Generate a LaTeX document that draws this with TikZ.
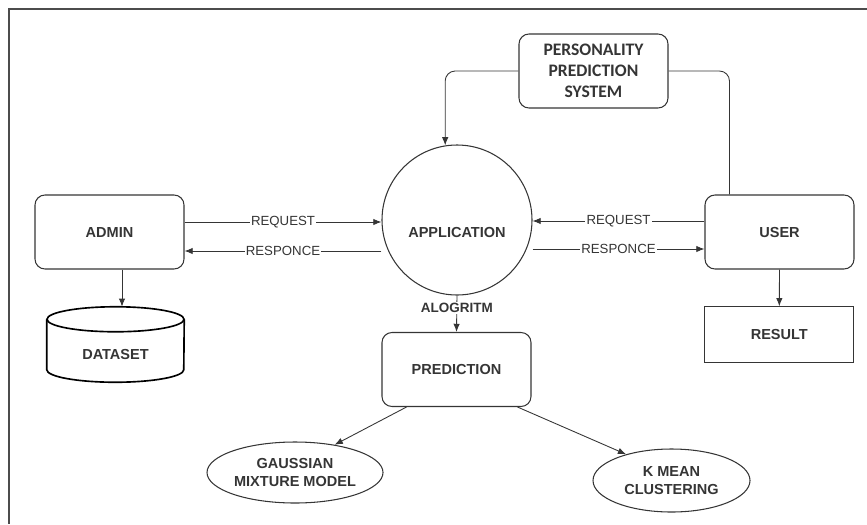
\documentclass[tikz,border=0pt]{standalone}
\usepackage{fontspec}
\setmainfont{Liberation Sans}
\newfontfamily\calibfont{Carlito}
\usetikzlibrary{positioning,calc,shapes.geometric,arrows.meta}
\definecolor{ink}{HTML}{353535}

\begin{document}
\begin{tikzpicture}[x=0.03cm,y=-0.03cm,
        box/.style={draw=ink,line width=0.9pt,rounded corners=0.3cm,minimum width=4.47cm,minimum height=2.22cm,align=center,text=ink,font=\fontsize{12.4}{17}\selectfont\bfseries},
        sharpbox/.style={box,sharp corners,line width=0.7pt,minimum height=1.68cm},
        circ/.style={circle,draw=ink,line width=0.9pt,minimum size=4.5cm,text=ink,font=\fontsize{12.4}{17}\selectfont\bfseries},
        ellip/.style={ellipse,draw=ink,line width=0.9pt,align=center,inner sep=0pt,text=ink,font=\fontsize{12.4}{16}\selectfont\bfseries},
        lbl/.style={fill=white,inner sep=1pt,text=ink,font=\fontsize{11.3}{13}\selectfont},
        arr/.style={draw=ink,line width=0.75pt,-{Latex[length=7pt,width=5.5pt]}},
        plain/.style={draw=ink,line width=0.75pt}]
    \useasboundingbox (0,0) rectangle (867,524);
    % frame of the screenshot
    \draw[line width=1.6pt,draw=black!70] (867,9) -- (9,9) -- (9,524);

    % nodes
    \node[box,font=\calibfont\fontsize{15}{18}\selectfont\bfseries] (pps) at (593.5,71) {PERSONALITY\\PREDICTION\\SYSTEM};
    \node[circ] (app) at (457,220) {\raisebox{-0.52cm}[0pt][0pt]{APPLICATION}};
    \node[box] (admin) at (109.5,232) {ADMIN};
    \node[box] (user) at (779.5,232) {USER};
    \node[sharpbox] (result) at (779.3,334.7) {RESULT};
    \node[box] (pred) at (456.5,369.5) {PREDICTION};
    \node[ellip,minimum width=5.28cm,minimum height=1.83cm] (gmm) at (295,472.5) {GAUSSIAN\\MIXTURE MODEL};
    \node[ellip,minimum width=4.71cm,minimum height=1.89cm] (kmc) at (671.5,480.5) {K MEAN\\CLUSTERING};
    \node[minimum width=4.11cm,minimum height=2.25cm,text=ink,font=\fontsize{12.4}{17}\selectfont\bfseries] (dataset) at (115.5,344.5) {\raisebox{-0.45cm}[0pt][0pt]{DATASET}};

    % database drum
    \draw[line width=1.4pt] ($(dataset.north west)+(0,12.5)$) -- ($(dataset.south west)+(0,-12.5)$)
        arc[start angle=180,end angle=360,x radius=2.055cm,y radius=0.375cm] -- ($(dataset.north east)+(0,12.5)$);
    \draw[line width=1.4pt] ($(dataset.north)+(0,12.5)$) ellipse[x radius=2.055cm,y radius=0.375cm];

    % connectors
    \draw[arr,rounded corners=0.3cm] (pps.west) -| (app.99);
    \draw[plain,rounded corners=0.3cm] (pps.east) -| ($(user.north west)+(25,0)$);

    \coordinate (a1) at ($(admin.east)+(0,-10)$);
    \coordinate (a2) at ($(admin.east)+(0,19)$);
    \draw[arr] (a1) -- (a1 -| app.west) node[lbl,midway] {REQUEST};
    \draw[arr] (a2 -| app.west) -- (a2) node[lbl,midway] {RESPONCE};

    \coordinate (u1) at ($(user.west)+(0,-11)$);
    \coordinate (u2) at ($(user.west)+(0,17)$);
    \draw[arr] (u1) -- (u1 -| app.east) node[lbl,midway] {REQUEST};
    \draw[arr] (u2 -| app.east) -- (u2) node[lbl,midway] {RESPONCE};

    \draw[arr] ($(admin.south)+(12.5,0)$) -- ($(dataset.north)+(6.5,0)$);
    \draw[arr] (user.south) -- (result.north);
    \draw[arr] (app.south) -- (pred.north) node[lbl,pos=0.35,font=\fontsize{11.5}{13}\selectfont\bfseries] {ALOGRITM};
    \draw[arr] ($(pred.south west)+(25,0)$) -- (gmm.35);
    \draw[arr] ($(pred.south east)+(-14,0)$) -- (kmc.150);
\end{tikzpicture}
\end{document}
